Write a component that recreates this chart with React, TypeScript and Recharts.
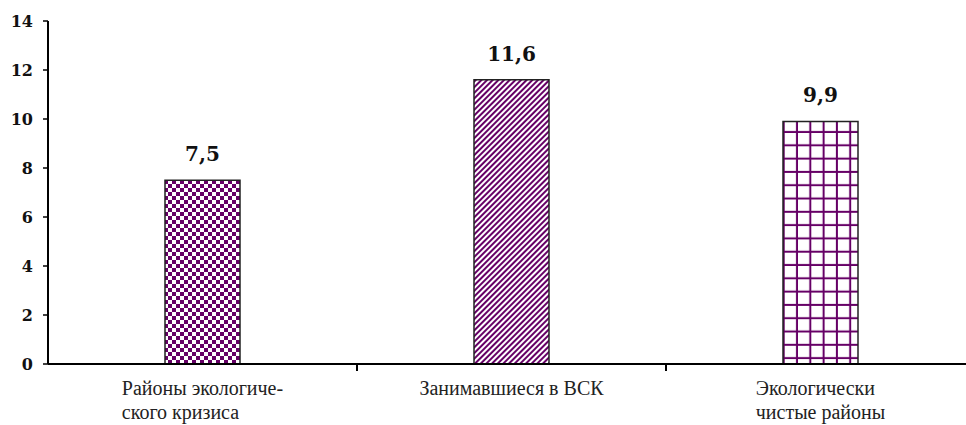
import { BarChart, Bar, XAxis, YAxis, Cell, LabelList } from "recharts";

// Chart data
const categories: string[][] = [
  ["Районы экологиче-", "ского кризиса"],
  ["Занимавшиеся в ВСК"],
  ["Экологически", "чистые районы"],
];
const values: number[] = [7.5, 11.6, 9.9];
const yTicks: number[] = [0, 2, 4, 6, 8, 10, 12, 14];

const PURPLE = "#660066";
const SERIF = '"Liberation Serif", "Times New Roman", Times, serif';
const BOLD_SERIF = '"DejaVu Serif", "Liberation Serif", serif';
const patternFills = ["url(#checker)", "url(#diag)", "url(#grid)"];

const chartData = values.map((v, i) => ({ x: i + 0.5, value: v }));
const xTicks = [0.5, 1, 1.5, 2, 2.5];

let measureCtx: CanvasRenderingContext2D | null = null;
function textWidth(s: string): number {
  if (!measureCtx) {
    measureCtx = document.createElement("canvas").getContext("2d");
    if (measureCtx) measureCtx.font = `20px ${SERIF}`;
  }
  return measureCtx ? measureCtx.measureText(s).width : s.length * 9;
}

// Bottom axis: boundary ticks on integers, category labels on half values
function XTick(props: any) {
  const { x, y, payload } = props;
  const v: number = payload.value;
  if (Number.isInteger(v)) {
    return <line x1={x} x2={x} y1={y} y2={y + 7} stroke="#000" strokeWidth={2} />;
  }
  const lines = categories[Math.floor(v)];
  const widest = Math.max(...lines.map(textWidth));
  const left = x - widest / 2;
  return (
    <g>
      {lines.map((line, i) => (
        <text
          key={i}
          x={left}
          y={y + 31 + i * 24}
          textAnchor="start"
          style={{ fontFamily: SERIF, fontSize: 20 }}
          fill="#222"
        >
          {line}
        </text>
      ))}
    </g>
  );
}

export default function App() {
  return (
    <div style={{ position: "fixed", left: 0, top: 0, width: 966, height: 425, overflow: "hidden", background: "#fff" }}>
      <svg width={0} height={0} style={{ position: "absolute" }}>
        <defs>
          <pattern id="checker" width={8} height={8} patternUnits="userSpaceOnUse">
            <rect width={8} height={8} fill="#fff" />
            <rect x={0} y={0} width={4} height={4} fill={PURPLE} />
            <rect x={4} y={4} width={4} height={4} fill={PURPLE} />
          </pattern>
          <pattern id="diag" width={4} height={4} patternUnits="userSpaceOnUse" patternTransform="rotate(45)">
            <rect width={4} height={4} fill="#fff" />
            <rect x={0} y={0} width={2} height={4} fill={PURPLE} />
          </pattern>
          <pattern id="grid" width={13.3} height={13.3} patternUnits="userSpaceOnUse">
            <rect width={13.3} height={13.3} fill="#fff" />
            <rect x={11.3} y={0} width={2} height={13.3} fill={PURPLE} />
            <rect x={0} y={11.3} width={13.3} height={2} fill={PURPLE} />
          </pattern>
        </defs>
      </svg>
      <BarChart width={980} height={425} data={chartData} margin={{ top: 21, right: 5, left: 8, bottom: 0 }}>
        <XAxis
          dataKey="x"
          type="number"
          domain={[0, 3]}
          ticks={xTicks}
          interval={0}
          tickSize={0}
          tickMargin={0}
          tickLine={false}
          axisLine={{ stroke: "#000", strokeWidth: 2 }}
          tick={<XTick />}
          height={61}
        />
        <YAxis
          domain={[0, 14]}
          ticks={yTicks}
          interval={0}
          width={40}
          tickSize={5}
          tickMargin={10}
          axisLine={{ stroke: "#000", strokeWidth: 2 }}
          tickLine={{ stroke: "#000", strokeWidth: 1.5 }}
          tick={{ fill: "#111", fontWeight: "bold", fontSize: 16, style: { fontFamily: BOLD_SERIF } }}
        />
        <Bar dataKey="value" barSize={75} stroke="#222" strokeWidth={1.5} isAnimationActive={false}>
          {chartData.map((_, i) => (
            <Cell key={i} fill={patternFills[i]} />
          ))}
          <LabelList
            dataKey="value"
            position="top"
            offset={19}
            formatter={(v: any) => String(v).replace(".", ",")}
            fill="#111"
            fontWeight="bold"
            fontSize={20}
            style={{ fontFamily: BOLD_SERIF }}
          />
        </Bar>
      </BarChart>
    </div>
  );
}
